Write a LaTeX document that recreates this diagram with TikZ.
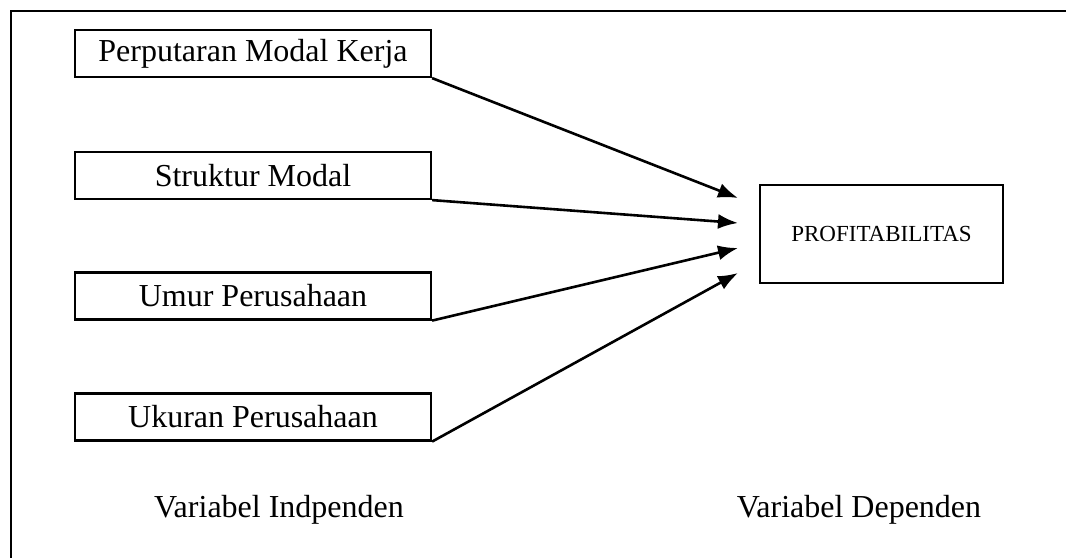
\documentclass[tikz,border=0pt]{standalone}
\usepackage{fontspec}
\setmainfont{Liberation Serif}
\usetikzlibrary{arrows.meta}
\tikzset{
  varbox/.style={draw, line width=2.2pt, minimum width=356pt, minimum height=47pt, inner sep=0pt, font=\fontsize{32}{36}\selectfont},
  depbox/.style={draw, line width=2.2pt, minimum width=243pt, minimum height=98pt, inner sep=0pt, font=\fontsize{23}{26}\selectfont},
  conn/.style={line width=2.6pt, -{Latex[length=20pt,width=15pt]}},
  caption/.style={font=\fontsize{32}{36}\selectfont, inner sep=0pt},
  frame/.style={line width=2.8pt}
}
\begin{document}
\begin{tikzpicture}[x=1pt,y=-1pt]
\useasboundingbox (0,0) rectangle (1066,558);
\coordinate (ftl) at (11,11);
\coordinate (ftr) at (1066,11);
\coordinate (fbl) at (11,558);
\draw[frame] (ftr) -- (ftl) -- (fbl);
\node[varbox] (b1) at (253,53.5) {Perputaran Modal Kerja};
\node[varbox] (b2) at (253,175.5) {Struktur Modal};
\node[varbox] (b3) at (253,296) {Umur Perusahaan};
\node[varbox] (b4) at (253,417) {Ukuran Perusahaan};
\node[depbox] (p) at (881.5,234) {PROFITABILITAS};
\coordinate (e1) at (738,198);
\coordinate (e2) at (738,223);
\coordinate (e3) at (738,248);
\coordinate (e4) at (738,273);
\draw[conn] (b1.south east) -- (e1);
\draw[conn] (b2.south east) -- (e2);
\draw[conn] (b3.south east) -- (e3);
\draw[conn] (b4.south east) -- (e4);
\node[caption, anchor=base] (ci) at (279,517) {Variabel Indpenden};
\node[caption, anchor=base] (cd) at (859,517) {Variabel Dependen};
\end{tikzpicture}
\end{document}
